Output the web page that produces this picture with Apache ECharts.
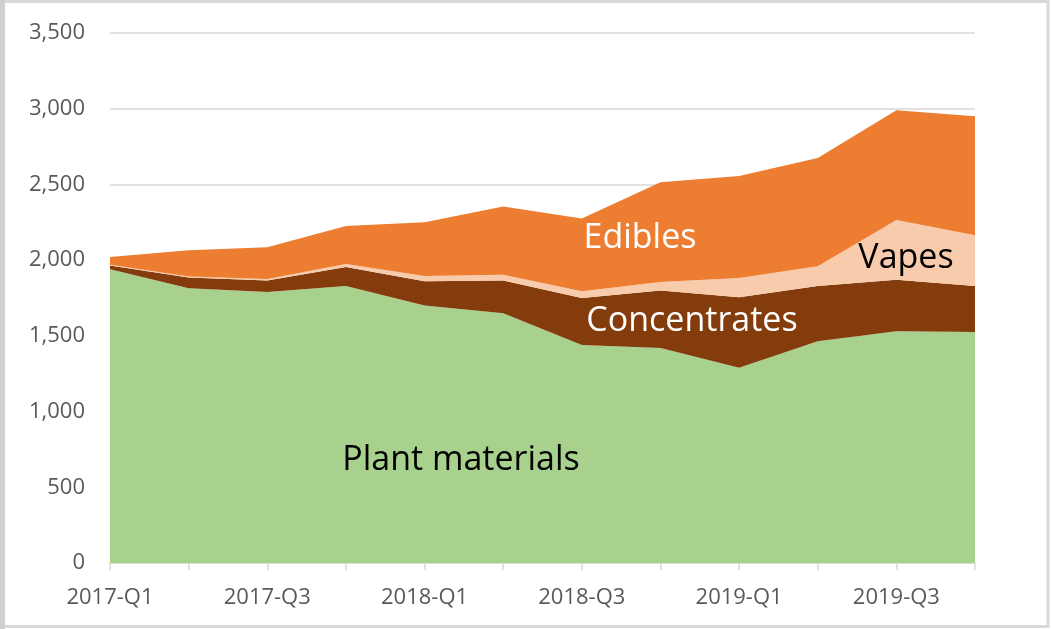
<!DOCTYPE html>
<html>
<head>
<meta charset="utf-8">
<style>
html,body{margin:0;padding:0;background:#fff;}
#chart{width:1051px;height:629px;}
</style>
<script src="https://cdn.jsdelivr.net/npm/echarts@6/dist/echarts.min.js"></script>
</head>
<body>
<div id="chart"></div>
<script>
const categories = ['2017-Q1','2017-Q2','2017-Q3','2017-Q4','2018-Q1','2018-Q2','2018-Q3','2018-Q4','2019-Q1','2019-Q2','2019-Q3','2019-Q4'];
const plantMaterials = [1940,1815,1790,1830,1700,1650,1440,1420,1290,1465,1530,1525];
const concentrates   = [25,70,75,125,160,215,310,380,465,365,340,305];
const vapes          = [5,7,10,20,35,38,45,55,127,130,395,335];
const edibles        = [50,173,210,250,355,452,480,660,673,715,725,785];
const yTicks = [0,500,1000,1500,2000,2500,3000,3500];

const chart = echarts.init(document.getElementById('chart'), null, {renderer:'canvas'});
const FONT = 'Open Sans';
function areaSeries(name, data, color){
  return {
    name: name, type:'line', stack:'total', data:data,
    symbol:'none', showSymbol:false,
    lineStyle:{width:0, color:color},
    areaStyle:{color:color, opacity:1},
    itemStyle:{color:color},
    emphasis:{disabled:true},
    z:3
  };
}
chart.setOption({
  animation:false,
  backgroundColor:'#ffffff',
  grid:{left:110, right:76, top:33, bottom:66, containLabel:false},
  xAxis:{
    type:'category', data:categories, boundaryGap:false,
    axisLine:{show:true, lineStyle:{color:'#d9d9d9', width:1.5}},
    axisTick:{show:true, interval:0, length:7, lineStyle:{color:'#d9d9d9', width:1.5}},
    axisLabel:{interval:1, color:'#595959', fontFamily:FONT, fontSize:22, margin:24},
    splitLine:{show:false}
  },
  yAxis:{
    type:'value', min:yTicks[0], max:yTicks[yTicks.length-1], interval:500,
    axisLine:{show:false}, axisTick:{show:false},
    axisLabel:{color:'#595959', fontFamily:FONT, fontSize:22, margin:25,
      formatter:function(v){return v.toLocaleString('en-US');}},
    splitLine:{show:true, lineStyle:{color:'#d9d9d9', width:1.5}}
  },
  series:[
    areaSeries('Plant materials', plantMaterials, '#A9D18E'),
    areaSeries('Concentrates', concentrates, '#843C0C'),
    areaSeries('Vapes', vapes, '#F8CBAD'),
    areaSeries('Edibles', edibles, '#ED7D31')
  ],
  graphic:[
    {type:'rect', shape:{x:2, y:1.5, width:1046, height:625}, style:{fill:'none', stroke:'#d9d9d9', lineWidth:3}, silent:true, z:0},
    {type:'rect', shape:{x:0, y:0, width:5, height:629}, style:{fill:'#d0d0d0'}, silent:true, z:0},
    {type:'text', x:640, y:238, z:10, style:{text:'Edibles', fill:'#ffffff', font:'34px "Open Sans"', textAlign:'center', textVerticalAlign:'middle'}},
    {type:'text', x:906, y:258, z:10, style:{text:'Vapes', fill:'#000000', font:'34px "Open Sans"', textAlign:'center', textVerticalAlign:'middle'}},
    {type:'text', x:692, y:321, z:10, style:{text:'Concentrates', fill:'#ffffff', font:'34px "Open Sans"', textAlign:'center', textVerticalAlign:'middle'}},
    {type:'text', x:461, y:460, z:10, style:{text:'Plant materials', fill:'#000000', font:'34px "Open Sans"', textAlign:'center', textVerticalAlign:'middle'}}
  ]
});
</script>
</body>
</html>
